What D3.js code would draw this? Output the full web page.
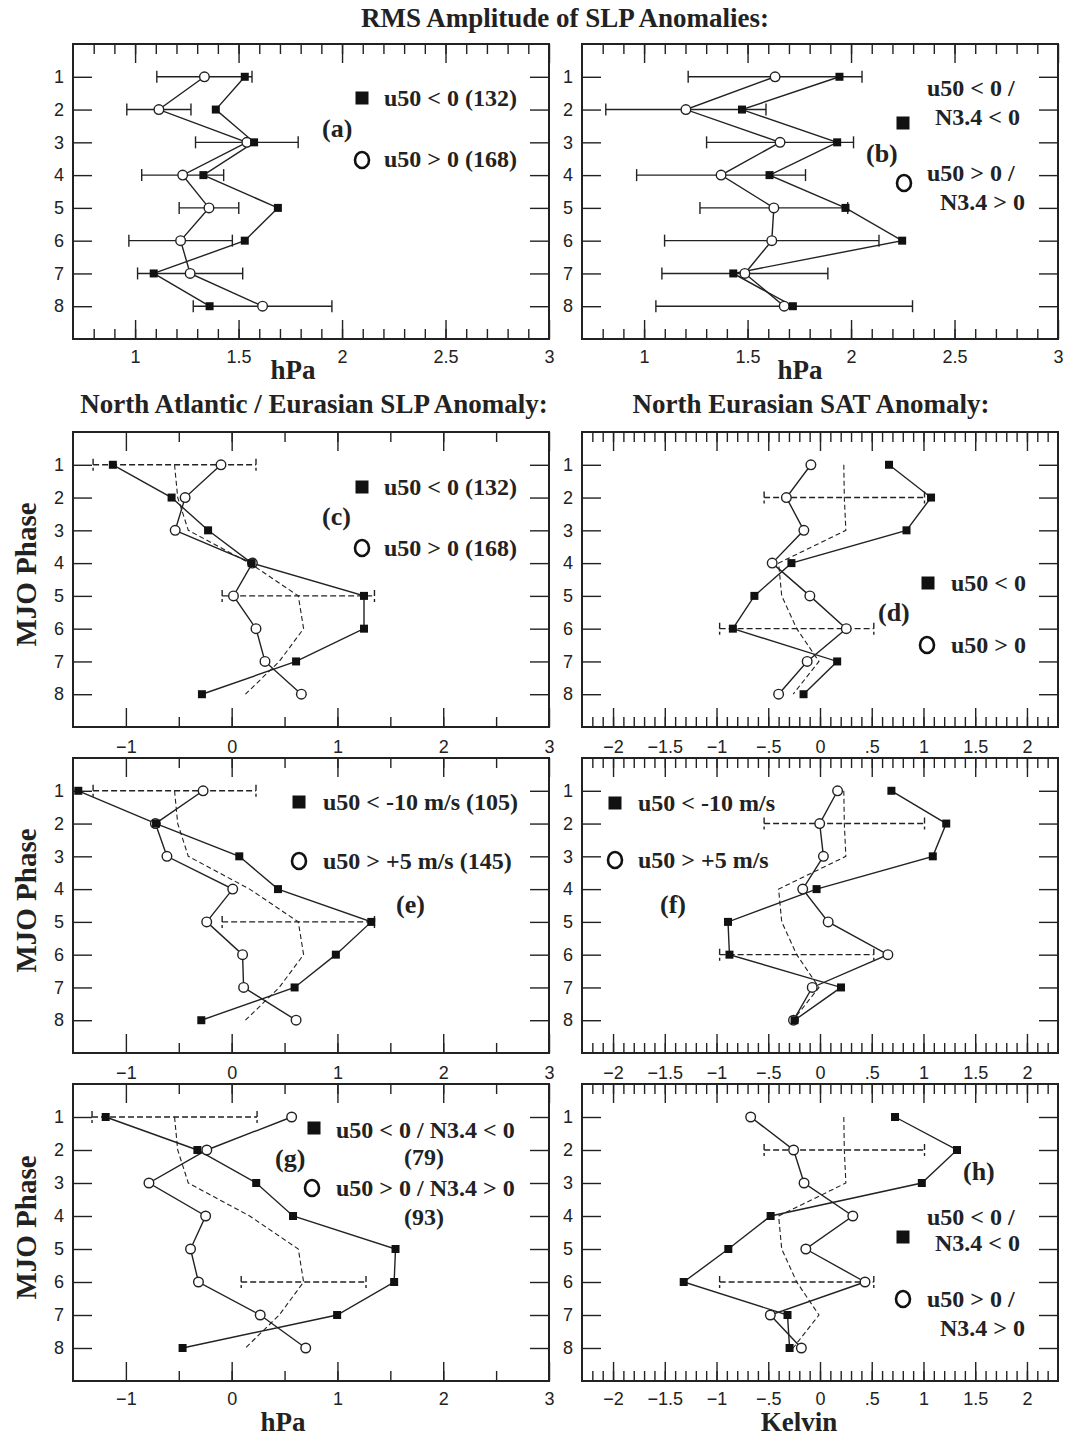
<!DOCTYPE html>
<html>
<head>
<meta charset="utf-8">
<script src="https://cdn.jsdelivr.net/npm/d3@7"></script>
<style>
body { margin: 0; background: #fff; }
.axis text { font-family: "Liberation Sans", Arial, sans-serif; font-size: 18px; fill: #222; }
.axis line { stroke: #222; stroke-width: 1.4; }
.lbl { font-family: "Liberation Serif", "Times New Roman", serif; font-weight: bold; fill: #222; }
</style>
</head>
<body>
<svg id="fig" width="1066" height="1437"></svg>
<script>
// MJO phases (y axis)
var phases = [1, 2, 3, 4, 5, 6, 7, 8];

// (a) RMS amplitude of SLP anomalies, hPa
var rmsNeg_a = [1.53, 1.39, 1.575, 1.33, 1.69, 1.53, 1.09, 1.36];
var rmsPos_a = [1.335, 1.115, 1.54, 1.23, 1.357, 1.22, 1.266, 1.616];
var rmsErr_a = [0.23, 0.155, 0.248, 0.198, 0.144, 0.25, 0.254, 0.335];

// (b) RMS amplitude, u50/N3.4 subsets
var rmsNeg_b = [1.944, 1.473, 1.933, 1.606, 1.973, 2.247, 1.431, 1.719];
var rmsPos_b = [1.633, 1.202, 1.657, 1.372, 1.627, 1.617, 1.487, 1.677];
var rmsErr_b = [0.42, 0.387, 0.355, 0.408, 0.357, 0.518, 0.401, 0.62];

// all winters (dashed), SLP hPa and SAT Kelvin
var slpAll = [-0.54, -0.51, -0.41, 0.17, 0.63, 0.68, 0.45, 0.13];
var satAll = [0.23, 0.235, 0.25, -0.40, -0.37, -0.225, -0.01, -0.26];

// dashed error bars: phases and half widths
var slpErrPh = [1, 5], slpErrHalf = [0.77, 0.72];
var slpErrPh_g = [1, 6], slpErrHalf_g = [0.78, 0.59];
var satErrPh = [2, 6], satErrHalf = [0.775, 0.745];

// (c) NA/Eurasian SLP anomaly
var slpNeg_c = [-1.123, -0.568, -0.223, 0.189, 1.251, 1.251, 0.609, -0.281];
var slpPos_c = [-0.101, -0.44, -0.534, 0.196, 0.017, 0.23, 0.315, 0.659];
// (e)
var slpNeg_e = [-1.45, -0.715, 0.072, 0.438, 1.32, 0.985, 0.595, -0.287];
var slpPos_e = [-0.27, -0.721, -0.612, 0.01, -0.236, 0.103, 0.113, 0.609];
// (g)
var slpNeg_g = [-1.191, -0.324, 0.232, 0.58, 1.549, 1.536, 0.997, -0.464];
var slpPos_g = [0.567, -0.235, -0.782, -0.246, -0.389, -0.314, 0.27, 0.70];

// (d) North Eurasian SAT anomaly
var satNeg_d = [0.667, 1.073, 0.836, -0.276, -0.634, -0.842, 0.166, -0.159];
var satPos_d = [-0.088, -0.325, -0.156, -0.462, -0.098, 0.254, -0.124, -0.40];
// (f)
var satNeg_f = [0.69, 1.22, 1.09, -0.033, -0.889, -0.875, 0.203, -0.246];
var satPos_f = [0.17, -0.003, 0.033, -0.167, 0.079, 0.656, -0.075, -0.256];
// (h)
var satNeg_h = [0.725, 1.324, 0.984, -0.477, -0.886, -1.317, -0.314, -0.294];
var satPos_h = [-0.67, -0.255, -0.154, 0.317, -0.137, 0.435, -0.48, -0.18];

var svg = d3.select("#fig");

function steps(a, b, n) {
  return d3.range(Math.round(a * n), Math.round(b * n) + 1).map(function(v) { return v / n; });
}
function fmtNum(d) {
  return (d < 0 ? "\u2212" : "") + String(Math.abs(+d.toFixed(1)));
}
function fmtSat(d) {
  var s = String(Math.abs(+d.toFixed(1)));
  if (s.indexOf("0.") === 0) s = s.slice(1);
  return (d < 0 ? "\u2212" : "") + s;
}

var RMS = {domain: [0.7, 3], major: steps(1, 3, 2), minor: steps(0.8, 2.9, 10), fmt: fmtNum};
var SLP = {domain: [-1.5, 3], major: steps(-1, 3, 1), minor: steps(-0.5, 2.5, 2), fmt: fmtNum};
var SAT = {domain: [-2.3, 2.3], major: steps(-2, 2, 2), minor: steps(-2.2, 2.2, 10), fmt: fmtSat};

var LEFT = 73, RIGHT = 582, W = 476;
var TOPS = [44, 432, 758, 1084], HS = [295, 295, 295, 297];

function drawPanel(p) {
  var top = TOPS[p.row], h = HS[p.row];
  var x = d3.scaleLinear().domain(p.kind.domain).range([p.left, p.left + W]);
  var y = d3.scaleLinear().domain([0, 9]).range([top, top + h]);
  var g = svg.append("g");

  // x ticks, inward, top and bottom
  [["top", top, d3.axisTop, 5], ["bottom", top + h, d3.axisBottom, 11]].forEach(function(s) {
    g.append("g").attr("class", "axis")
      .attr("transform", "translate(0," + s[1] + ")")
      .call(s[2](x).tickValues(p.kind.minor).tickSize(-10).tickFormat(""));
    g.append("g").attr("class", "axis")
      .attr("transform", "translate(0," + s[1] + ")")
      .call(s[2](x).tickValues(p.kind.major).tickSize(-19).tickPadding(s[3])
        .tickFormat(p.labels.indexOf(s[0]) >= 0 ? p.kind.fmt : ""));
  });
  // y ticks, both sides
  g.append("g").attr("class", "axis")
    .attr("transform", "translate(" + p.left + ",0)")
    .call(d3.axisLeft(y).tickValues(phases).tickSize(-19).tickPadding(9));
  g.append("g").attr("class", "axis")
    .attr("transform", "translate(" + (p.left + W) + ",0)")
    .call(d3.axisRight(y).tickValues(phases).tickSize(-19).tickFormat(""));
  g.selectAll(".domain").remove();

  g.append("rect")
    .attr("x", p.left).attr("y", top).attr("width", W).attr("height", h)
    .attr("fill", "none").attr("stroke", "#222").attr("stroke-width", 2);

  var line = d3.line()
    .x(function(d) { return x(d[1]); })
    .y(function(d) { return y(d[0]); });

  // all-winter dashed curve
  if (p.ref) {
    g.append("path")
      .datum(d3.zip(phases, p.ref))
      .attr("d", line)
      .attr("fill", "none").attr("stroke", "#222").attr("stroke-width", 1.1)
      .attr("stroke-dasharray", "5,3");
  }

  // error bars
  var bars = p.err.map(function(e) {
    return {ph: e[0], c: e[1], half: e[2]};
  });
  var eb = g.selectAll(".eb").data(bars).enter().append("g")
    .attr("stroke", "#222").attr("stroke-width", 1.4)
    .attr("stroke-dasharray", p.errDash ? "6,3" : null);
  eb.append("line")
    .attr("x1", function(d) { return x(d.c - d.half); })
    .attr("x2", function(d) { return x(d.c + d.half); })
    .attr("y1", function(d) { return y(d.ph); })
    .attr("y2", function(d) { return y(d.ph); });
  [-1, 1].forEach(function(sg) {
    eb.append("line")
      .attr("stroke-dasharray", null)
      .attr("x1", function(d) { return x(d.c + sg * d.half); })
      .attr("x2", function(d) { return x(d.c + sg * d.half); })
      .attr("y1", function(d) { return y(d.ph) - 6; })
      .attr("y2", function(d) { return y(d.ph) + 6; });
  });

  // series lines
  [p.neg, p.pos].forEach(function(vals) {
    g.append("path")
      .datum(d3.zip(phases, vals))
      .attr("d", line)
      .attr("fill", "none").attr("stroke", "#222").attr("stroke-width", 1.4);
  });

  // markers: open circles, then filled squares
  g.selectAll(".ci").data(d3.zip(phases, p.pos)).enter().append("circle")
    .attr("cx", function(d) { return x(d[1]); })
    .attr("cy", function(d) { return y(d[0]); })
    .attr("r", 4.8)
    .attr("fill", "#fff").attr("stroke", "#222").attr("stroke-width", 1.4);
  g.selectAll(".sq").data(d3.zip(phases, p.neg)).enter().append("rect")
    .attr("x", function(d) { return x(d[1]) - 4; })
    .attr("y", function(d) { return y(d[0]) - 4; })
    .attr("width", 8).attr("height", 8)
    .attr("fill", "#111");

  // legend and panel letter
  p.legend.forEach(function(it) {
    if (it[0] === "sq") {
      g.append("rect").attr("x", it[1] - 6.5).attr("y", it[2] - 6.5)
        .attr("width", 13).attr("height", 13).attr("fill", "#111");
    } else if (it[0] === "ci") {
      g.append("ellipse").attr("cx", it[1]).attr("cy", it[2]).attr("rx", 7).attr("ry", 8)
        .attr("fill", "none").attr("stroke", "#111").attr("stroke-width", 2.6);
    } else {
      g.append("text").attr("class", "lbl").attr("x", it[1]).attr("y", it[2])
        .attr("font-size", it[0] === "L" ? 26 : 24).text(it[3]);
    }
  });
}

function errAll(center, half) {
  return phases.map(function(ph, i) { return [ph, center[i], half[i]]; });
}
function errSome(ref, phs, half) {
  return phs.map(function(ph, i) { return [ph, ref[ph - 1], half[i]]; });
}

var panels = [
  {row: 0, left: LEFT, kind: RMS, labels: ["bottom"], neg: rmsNeg_a, pos: rmsPos_a,
   err: errAll(rmsPos_a, rmsErr_a), errDash: false,
   legend: [["sq", 362, 98], ["t", 384, 106, "u50 < 0 (132)"], ["L", 322, 137, "(a)"],
            ["ci", 362, 160], ["t", 384, 167, "u50 > 0 (168)"]]},
  {row: 0, left: RIGHT, kind: RMS, labels: ["bottom"], neg: rmsNeg_b, pos: rmsPos_b,
   err: errAll(rmsPos_b, rmsErr_b), errDash: false,
   legend: [["t", 927, 96, "u50 < 0 /"], ["t", 935, 125, "N3.4 < 0"], ["sq", 903, 123],
            ["L", 866, 162, "(b)"], ["ci", 904, 183], ["t", 927, 181, "u50 > 0 /"],
            ["t", 940, 210, "N3.4 > 0"]]},
  {row: 1, left: LEFT, kind: SLP, labels: [], neg: slpNeg_c, pos: slpPos_c, ref: slpAll,
   err: errSome(slpAll, slpErrPh, slpErrHalf), errDash: true,
   legend: [["sq", 362, 487], ["t", 384, 495, "u50 < 0 (132)"], ["L", 322, 525, "(c)"],
            ["ci", 362, 548], ["t", 384, 556, "u50 > 0 (168)"]]},
  {row: 1, left: RIGHT, kind: SAT, labels: [], neg: satNeg_d, pos: satPos_d, ref: satAll,
   err: errSome(satAll, satErrPh, satErrHalf), errDash: true,
   legend: [["sq", 928, 583], ["t", 951, 591, "u50 < 0"], ["L", 878, 621, "(d)"],
            ["ci", 927, 645], ["t", 951, 653, "u50 > 0"]]},
  {row: 2, left: LEFT, kind: SLP, labels: ["top"], neg: slpNeg_e, pos: slpPos_e, ref: slpAll,
   err: errSome(slpAll, slpErrPh, slpErrHalf), errDash: true,
   legend: [["sq", 299, 802], ["t", 323, 810, "u50 < -10 m/s (105)"],
            ["ci", 299, 861], ["t", 323, 869, "u50 > +5 m/s (145)"], ["L", 396, 913, "(e)"]]},
  {row: 2, left: RIGHT, kind: SAT, labels: ["top"], neg: satNeg_f, pos: satPos_f, ref: satAll,
   err: errSome(satAll, satErrPh, satErrHalf), errDash: true,
   legend: [["sq", 615, 803], ["t", 638, 811, "u50 < -10 m/s"],
            ["ci", 615, 860], ["t", 638, 868, "u50 > +5 m/s"], ["L", 660, 913, "(f)"]]},
  {row: 3, left: LEFT, kind: SLP, labels: ["top", "bottom"], neg: slpNeg_g, pos: slpPos_g, ref: slpAll,
   err: errSome(slpAll, slpErrPh_g, slpErrHalf_g), errDash: true,
   legend: [["sq", 314, 1128], ["t", 336, 1138, "u50 < 0 / N3.4 < 0"], ["t", 404, 1165, "(79)"],
            ["L", 275, 1167, "(g)"], ["ci", 312, 1188], ["t", 336, 1196, "u50 > 0 / N3.4 > 0"],
            ["t", 404, 1225, "(93)"]]},
  {row: 3, left: RIGHT, kind: SAT, labels: ["top", "bottom"], neg: satNeg_h, pos: satPos_h, ref: satAll,
   err: errSome(satAll, satErrPh, satErrHalf), errDash: true,
   legend: [["L", 963, 1180, "(h)"], ["t", 927, 1225, "u50 < 0 /"], ["sq", 903, 1237],
            ["t", 935, 1251, "N3.4 < 0"], ["ci", 903, 1299], ["t", 927, 1307, "u50 > 0 /"],
            ["t", 940, 1336, "N3.4 > 0"]]}
];
panels.forEach(drawPanel);

// titles and axis names
function label(txt, x, y, size, rot) {
  var t = svg.append("text").attr("class", "lbl").attr("font-size", size)
    .attr("text-anchor", "middle").text(txt);
  if (rot) t.attr("transform", "translate(" + x + "," + y + ") rotate(-90)").attr("dy", "0.35em");
  else t.attr("x", x).attr("y", y);
}
label("RMS Amplitude of SLP Anomalies:", 565, 27, 27);
label("North Atlantic / Eurasian SLP Anomaly:", 314, 413, 27);
label("North Eurasian SAT Anomaly:", 811, 413, 27);
label("hPa", 293, 379, 27);
label("hPa", 800, 379, 27);
label("hPa", 283, 1431, 27);
label("Kelvin", 799, 1431, 27);
[1, 2, 3].forEach(function(r) {
  label("MJO Phase", 26, TOPS[r] + HS[r] / 2 - 5, 29, true);
});
</script>
</body>
</html>
